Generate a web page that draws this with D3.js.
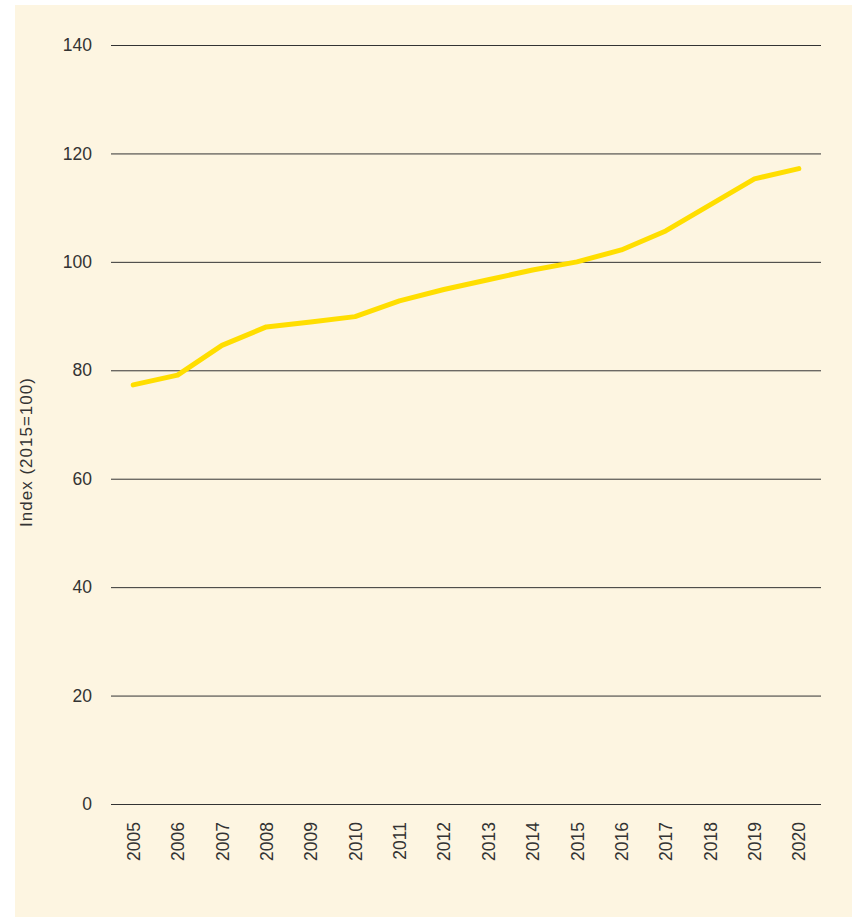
<!DOCTYPE html>
<html>
<head>
<meta charset="utf-8">
<script src="https://cdn.jsdelivr.net/npm/d3@7"></script>
<style>
  html, body { margin: 0; padding: 0; background: #ffffff; }
  svg { display: block; }
  text { font-family: "Liberation Sans", Arial, sans-serif; fill: #333333; }
</style>
</head>
<body>
<svg id="chart" width="852" height="917"></svg>
<script>
const years = ["2005","2006","2007","2008","2009","2010","2011","2012","2013","2014","2015","2016","2017","2018","2019","2020"];
const indexValues = [77.3, 79.1, 84.6, 88.0, 88.9, 89.9, 92.8, 94.9, 96.7, 98.5, 100.0, 102.2, 105.7, 110.5, 115.3, 117.2];
const yTicks = [0, 20, 40, 60, 80, 100, 120, 140];
const yTitle = "Index (2015=100)";

const svg = d3.select("#chart");
const W = 852, H = 917;
const plot = { left: 111, right: 821, top: 45, bottom: 804 };

svg.append("rect").attr("x", 15).attr("y", 5).attr("width", W - 15).attr("height", H - 5).attr("fill", "#fdf5e1");

const x = d3.scalePoint().domain(years).range([plot.left, plot.right]).padding(0.5);
const y = d3.scaleLinear().domain([0, 140]).range([plot.bottom, plot.top]);

// gridlines
const yAxis = d3.axisLeft(y).tickValues(yTicks).tickSize(-(plot.right - plot.left)).tickPadding(19).tickFormat(d3.format("d"));
const gy = svg.append("g").attr("transform", `translate(${plot.left},0)`).call(yAxis);
gy.select(".domain").remove();
gy.selectAll(".tick line").attr("stroke", "#333333").attr("stroke-width", 1);
gy.selectAll(".tick text").attr("font-size", 17.5).attr("fill", "#333333").style("font-family", "'Liberation Sans', Arial, sans-serif");

// x axis labels
const xAxis = d3.axisBottom(x).tickSize(0).tickPadding(0);
const gx = svg.append("g").attr("transform", `translate(0,${plot.bottom})`).call(xAxis);
gx.select(".domain").remove();
gx.selectAll(".tick text")
  .attr("font-size", 17.5)
  .attr("fill", "#333333")
  .style("font-family", "'Liberation Sans', Arial, sans-serif")
  .attr("text-anchor", "end")
  .attr("dy", "0.35em")
  .attr("transform", "translate(0,18) rotate(-90)")
  .attr("y", 0)
  .attr("x", 0);

// y title
svg.append("text")
  .attr("transform", `translate(32,452) rotate(-90)`)
  .attr("text-anchor", "middle")
  .attr("font-size", 17)
  .attr("letter-spacing", 1)
  .text(yTitle);

// line
const line = d3.line().x((d, i) => x(years[i])).y(d => y(d));
svg.append("path")
  .datum(indexValues)
  .attr("d", line)
  .attr("fill", "none")
  .attr("stroke", "#ffde00")
  .attr("stroke-width", 5)
  .attr("stroke-linecap", "round")
  .attr("stroke-linejoin", "round");
</script>
</body>
</html>
